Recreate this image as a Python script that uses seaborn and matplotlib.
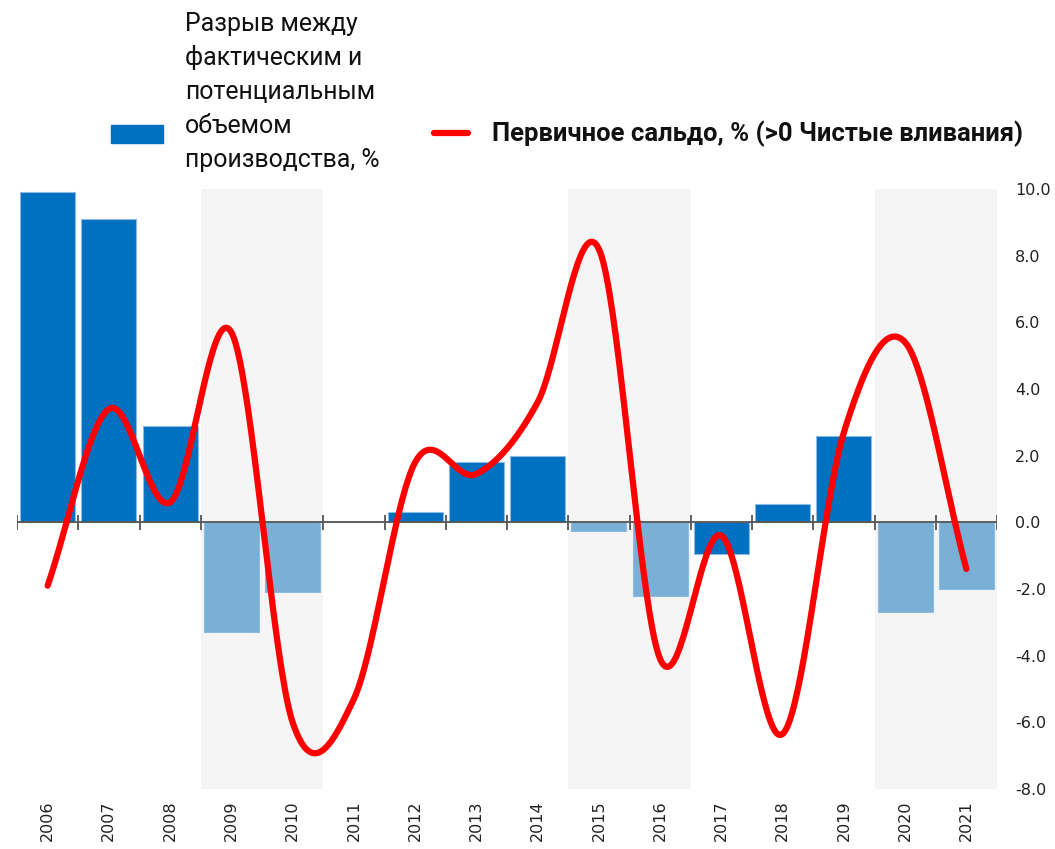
import numpy as np
import pandas as pd
import matplotlib
matplotlib.use('Agg')
import matplotlib.pyplot as plt
from matplotlib.patches import Rectangle
from matplotlib.lines import Line2D
import seaborn as sns

# ── Data ──────────────────────────────────────────────────────────────────────
years = [str(y) for y in range(2006, 2022)]
output_gap = [9.9, 9.1, 2.9, -3.3, -2.1, 0.0, 0.3, 1.8, 2.0, -0.25,
              -2.2, -0.95, 0.55, 2.6, -2.7, -2.0]
primary_balance = [-1.9, 3.4, 0.6, 5.7, -6.0, -5.3, 1.8, 1.45, 3.6, 8.2,
                   -4.1, -0.4, -6.35, 2.7, 5.4, -1.4]
crisis_years = ['2009', '2010', '2015', '2016', '2020', '2021']

gap_label_lines = ["Разрыв между", "фактическим и", "потенциальным",
                   "объемом", "производства, %"]
balance_label = "Первичное сальдо, % (>0 Чистые вливания)"

# ── Style ─────────────────────────────────────────────────────────────────────
DARK_BLUE  = '#0070C0'
LIGHT_BLUE = '#7AAFD6'
SHADE      = '#F5F5F5'
RED        = '#FF0000'
W, H = 1055, 849

sns.set_style('white')
plt.rcParams['font.family'] = ['DejaVu Sans']
LEGEND_FONT = ['Roboto', 'DejaVu Sans']


def smooth(y, n=40):
    """Cardinal (Catmull-Rom) curve through the points, like Excel's smoothed line."""
    y = np.asarray(y, float)
    m = np.empty_like(y)
    m[1:-1] = (y[2:] - y[:-2]) / 2
    m[0] = y[1] - y[0]
    m[-1] = y[-1] - y[-2]
    t = np.linspace(0, 1, n, endpoint=False)
    h00 = 2 * t**3 - 3 * t**2 + 1
    h10 = t**3 - 2 * t**2 + t
    h01 = -2 * t**3 + 3 * t**2
    h11 = t**3 - t**2
    xs, ys = [], []
    for i in range(len(y) - 1):
        xs.append(i + t)
        ys.append(h00 * y[i] + h10 * m[i] + h01 * y[i + 1] + h11 * m[i + 1])
    xs.append([len(y) - 1.0])
    ys.append([y[-1]])
    return np.concatenate(xs), np.concatenate(ys)


df = pd.DataFrame({'year': years, 'gap': output_gap, 'balance': primary_balance})
colors = {yr: (LIGHT_BLUE if yr in crisis_years else DARK_BLUE) for yr in years}

fig = plt.figure(figsize=(W / 100, H / 100), dpi=100)
ax = fig.add_axes([17 / W, 1 - 789 / H, (997 - 17) / W, (789 - 189) / H])

# shaded crisis periods
for i, yr in enumerate(years):
    if yr in crisis_years:
        ax.axvspan(i - 0.5, i + 0.5, color=SHADE, lw=0, zorder=0)

sns.barplot(data=df, x='year', y='gap', hue='year', palette=colors, legend=False,
            saturation=1, width=0.9, edgecolor='#8DBBE3', linewidth=0.8,
            ax=ax, zorder=2)

# zero axis with category tick marks
ax.axhline(0, color='#555555', lw=1.3, zorder=3)
ax.vlines(np.arange(len(years) + 1) - 0.5, -0.22, 0.22, color='#555555', lw=1.3, zorder=3)

xs, ys = smooth(df['balance'])
sns.lineplot(x=xs, y=ys, sort=False, estimator=None, color=RED, lw=4.5,
             solid_capstyle='round', ax=ax, zorder=4)

ax.set_xlim(-0.5, len(years) - 0.5)
ax.set_ylim(-8, 10)
ax.set_yticks(np.arange(-8, 11, 2))
ax.set_yticklabels([f'{v:.1f}' for v in np.arange(-8, 11, 2)], fontsize=11.5, color='#222222')
ax.yaxis.tick_right()
ax.tick_params(axis='y', length=0, pad=13)
ax.set_xticks(range(len(years)))
ax.set_xticklabels(years, rotation=90, fontsize=11.5, color='#222222')
ax.tick_params(axis='x', length=0, pad=8)
ax.set_xlabel('')
ax.set_ylabel('')
for s in ax.spines.values():
    s.set_visible(False)


# ── Legend (drawn by hand) ────────────────────────────────────────────────────
def fit_size(text, target_px, weight='normal'):
    t = fig.text(0, 0, text, fontsize=10, family=LEGEND_FONT, fontweight=weight)
    w = t.get_window_extent(fig.canvas.get_renderer()).width
    t.remove()
    return 10 * target_px / w


size_left = fit_size(gap_label_lines[0], 173)
size_right = fit_size(balance_label, 530, 'bold')

fig.patches.append(Rectangle((111 / W, 1 - 143 / H), 52 / W, 18 / H,
                             transform=fig.transFigure, color=DARK_BLUE))
for k, line in enumerate(gap_label_lines):
    fig.text(185 / W, 1 - (24 + 34 * k) / H, line, fontsize=size_left, family=LEGEND_FONT,
             va='center', ha='left', color='#111111')
fig.lines.append(Line2D([434 / W, 468 / W], [1 - 133 / H, 1 - 133 / H],
                        transform=fig.transFigure, color=RED, lw=4.5,
                        solid_capstyle='round'))
fig.text(492 / W, 1 - 134 / H, balance_label, fontsize=size_right, family=LEGEND_FONT,
         fontweight='bold', va='center', ha='left', color='#111111')

fig.savefig('out.png', dpi=100)
